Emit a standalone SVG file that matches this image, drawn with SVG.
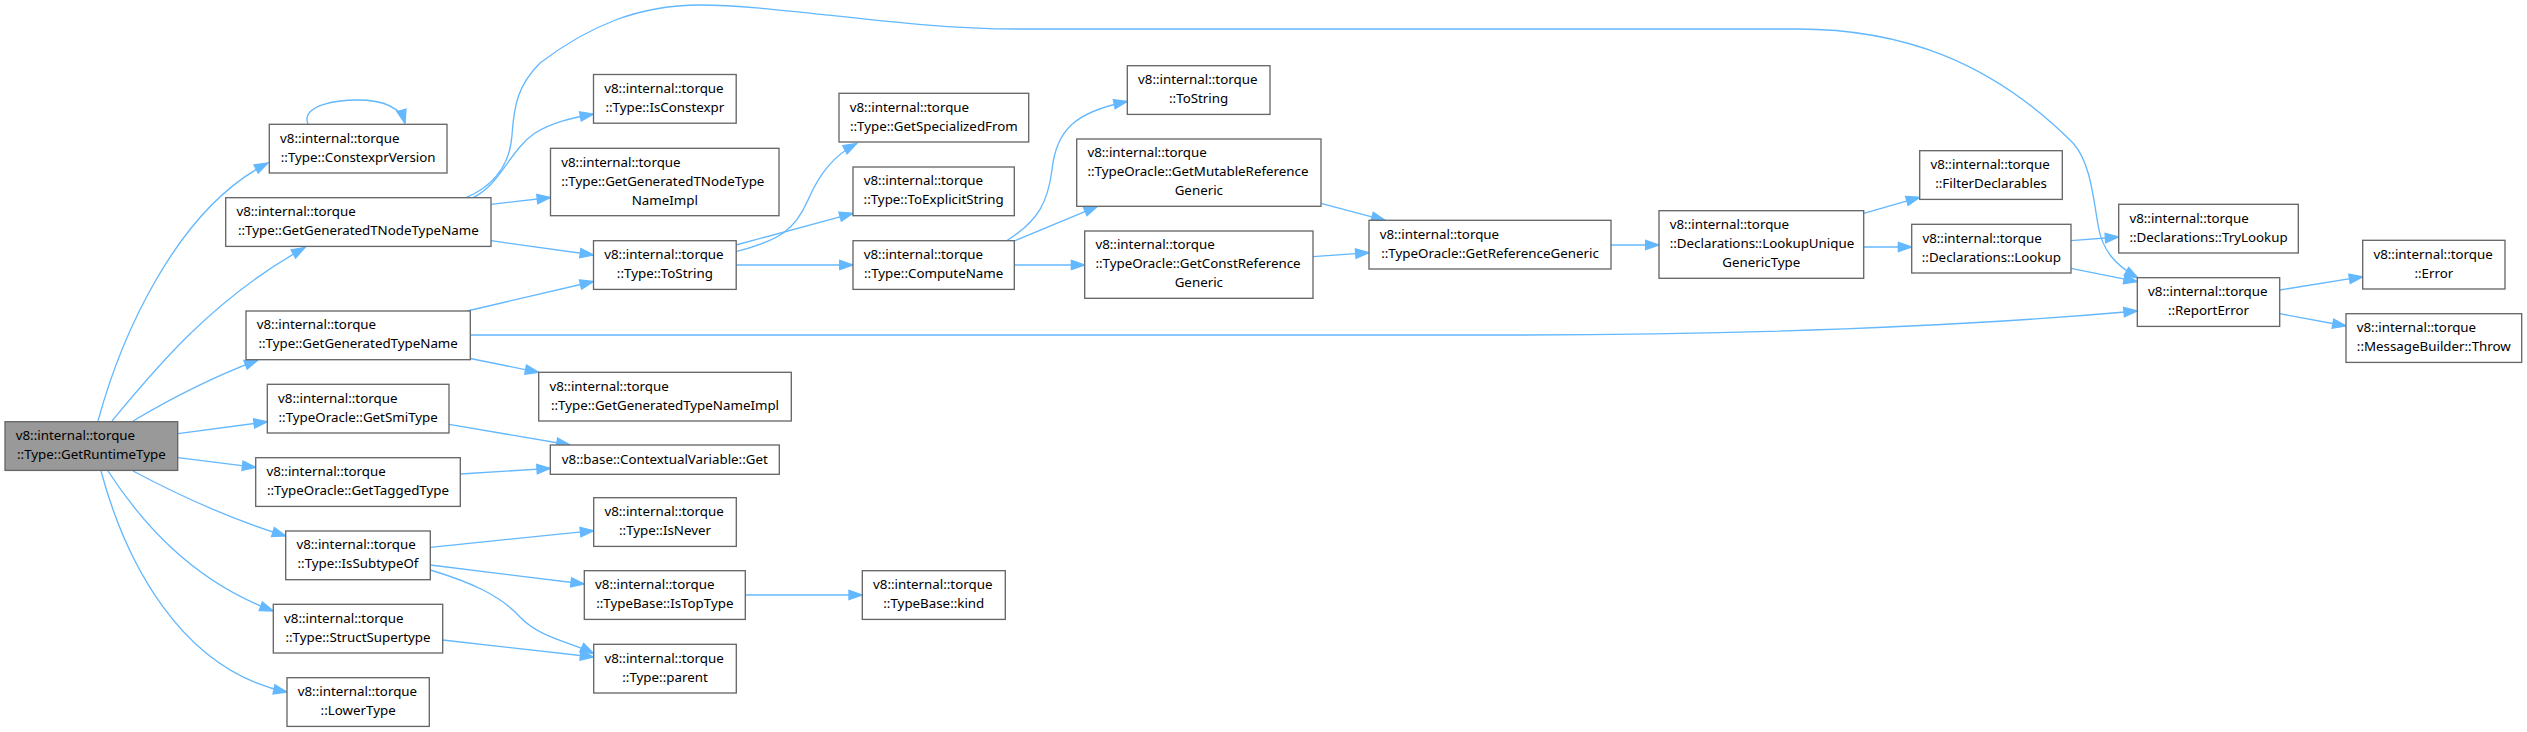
<svg xmlns="http://www.w3.org/2000/svg" width="2527" height="732" viewBox="0 0 2527 732">
<style>
.node rect{fill:#ffffff;stroke:#666666;stroke-width:1.33}
.root rect{fill:#999999}
text{font-family:"Noto Sans","Open Sans",sans-serif;font-size:13.33px;fill:#000000}
.c{text-anchor:middle}
#edges path{fill:none;stroke:#63b8ff;stroke-width:1.33;marker-end:url(#ah)}
</style>
<defs>
<marker id="ah" markerUnits="userSpaceOnUse" markerWidth="16" markerHeight="12" viewBox="-1 -1 16 12" refX="13.33" refY="4.67" orient="auto" overflow="visible">
<path d="M0,0 L13.33,4.67 L0,9.33 Z" fill="#63b8ff" stroke="#63b8ff" stroke-width="1.33"/>
</marker>
</defs>
<rect width="2527" height="732" fill="#ffffff"/>
<g id="edges">
<path d="M98,421 C120,340 175,210 268,163"/>
<path d="M112,421 C150,375 210,300 305,247.5"/>
<path d="M133,421 C165,402 210,378 258,360"/>
<path d="M178,433.7 L267.3,421.7"/>
<path d="M178,457.7 L255.7,467.3"/>
<path d="M133,471 C165,488 220,516 285.7,536"/>
<path d="M108,471 C140,520 190,580 273.3,611"/>
<path d="M101,471 C125,560 180,670 287,692"/>
<path d="M308,124.3 C300,104 340,100 357,100 C380,100 400,105 405,123.3"/>
<path d="M473,197.7 C500,185 510,150 535,133 C553,122 572,118 593.5,114"/>
<path d="M491,204.3 L550.5,197.5"/>
<path d="M491,240.7 L593.5,255"/>
<path d="M466,197.7 C495,185 510,165 512,135 C514,105 518,85 540,63 C590,25 640,5 700,5 C780,5 900,29 1020,29 L1797,29 C1900,29 1990,60 2073,143 C2090,162 2093,195 2098,225 C2102,250 2115,265 2138,278"/>
<path d="M467,311 L593.5,281.5"/>
<path d="M470.3,358.5 L538.7,372.3"/>
<path d="M470.3,335 L1500,335 C1800,335 2000,323 2137.3,311"/>
<path d="M449,424.3 L570,445"/>
<path d="M460.3,474 L550.3,468.3"/>
<path d="M430.3,547.3 L593.7,530.7"/>
<path d="M430.3,565 L584.3,584"/>
<path d="M430.3,570 C470,582 500,595 520,617 C540,638 570,642 593.7,653.5"/>
<path d="M442.7,640 L593.7,657"/>
<path d="M745.3,595 L862.3,595"/>
<path d="M736,251.7 C780,240 795,230 808,200 C820,172 835,155 856.7,143.5"/>
<path d="M736,245 L853,213.3"/>
<path d="M736,265 L853,265"/>
<path d="M1006.7,240.7 C1040,220 1048,200 1052,170 C1056,130 1075,112 1127.3,101.5"/>
<path d="M1013,241.5 L1097.5,206.3"/>
<path d="M1014.3,265 L1084.7,265"/>
<path d="M1321,203.3 L1385,220.3"/>
<path d="M1313,256.7 L1369,252.7"/>
<path d="M1611,245 L1659,245"/>
<path d="M1863.7,213.3 L1919.7,197.3"/>
<path d="M1863.7,247 L1911.7,247"/>
<path d="M2071,240.7 L2118.7,237"/>
<path d="M2071,268.3 L2137.3,281.7"/>
<path d="M2279.7,290 L2362.7,276.7"/>
<path d="M2279.7,313.7 L2346,326"/>
</g>
<g id="n1" class="node root"><rect x="5" y="421.7" width="172.7" height="48.7"/><text x="15.7" y="440">v8::internal::torque</text><text class="c" x="91.35" y="459">::Type::GetRuntimeType</text></g>
<g id="n2" class="node"><rect x="269.3" y="124.3" width="177.7" height="48.7"/><text x="280" y="142.6">v8::internal::torque</text><text class="c" x="358.15" y="161.6">::Type::ConstexprVersion</text></g>
<g id="n3" class="node"><rect x="225.7" y="197.7" width="265.3" height="48.7"/><text x="236.4" y="216">v8::internal::torque</text><text class="c" x="358.35" y="235">::Type::GetGeneratedTNodeTypeName</text></g>
<g id="n4" class="node"><rect x="246" y="311" width="224.3" height="48.7"/><text x="256.7" y="329.3">v8::internal::torque</text><text class="c" x="358.15" y="348.3">::Type::GetGeneratedTypeName</text></g>
<g id="n5" class="node"><rect x="267.3" y="384.3" width="181.7" height="48.7"/><text x="278" y="402.6">v8::internal::torque</text><text class="c" x="358.15" y="421.6">::TypeOracle::GetSmiType</text></g>
<g id="n6" class="node"><rect x="255.7" y="457.7" width="204.6" height="48.7"/><text x="266.4" y="476">v8::internal::torque</text><text class="c" x="358" y="495">::TypeOracle::GetTaggedType</text></g>
<g id="n7" class="node"><rect x="285.7" y="531" width="144.6" height="48.7"/><text x="296.4" y="549.3">v8::internal::torque</text><text class="c" x="358" y="568.3">::Type::IsSubtypeOf</text></g>
<g id="n8" class="node"><rect x="273.3" y="604.3" width="169.4" height="48.7"/><text x="284" y="622.6">v8::internal::torque</text><text class="c" x="358" y="641.6">::Type::StructSupertype</text></g>
<g id="n9" class="node"><rect x="287" y="677.7" width="142.3" height="48.7"/><text x="297.7" y="696">v8::internal::torque</text><text class="c" x="358.15" y="715">::LowerType</text></g>
<g id="n10" class="node"><rect x="593.5" y="74.5" width="142.7" height="48.7"/><text x="604.2" y="92.8">v8::internal::torque</text><text class="c" x="664.85" y="111.8">::Type::IsConstexpr</text></g>
<g id="n11" class="node"><rect x="550.5" y="148.3" width="228.5" height="67.4"/><text x="561.2" y="166.5">v8::internal::torque</text><text x="561.2" y="185.5">::Type::GetGeneratedTNodeType</text><text class="c" x="664.75" y="204.5">NameImpl</text></g>
<g id="n12" class="node"><rect x="593.5" y="240.7" width="142.7" height="48.7"/><text x="604.2" y="259">v8::internal::torque</text><text class="c" x="664.85" y="278">::Type::ToString</text></g>
<g id="n13" class="node"><rect x="538.7" y="372.3" width="252.6" height="48.7"/><text x="549.4" y="390.6">v8::internal::torque</text><text class="c" x="665" y="409.6">::Type::GetGeneratedTypeNameImpl</text></g>
<g id="n14" class="node"><rect x="550.3" y="445" width="229" height="29.3"/><text class="c" x="664.8" y="464">v8::base::ContextualVariable::Get</text></g>
<g id="n15" class="node"><rect x="593.7" y="497.7" width="142.6" height="48.7"/><text x="604.4" y="516">v8::internal::torque</text><text class="c" x="665" y="535">::Type::IsNever</text></g>
<g id="n16" class="node"><rect x="584.3" y="570.7" width="161" height="48.7"/><text x="595" y="589">v8::internal::torque</text><text class="c" x="664.8" y="608">::TypeBase::IsTopType</text></g>
<g id="n17" class="node"><rect x="593.7" y="644.3" width="142.6" height="48.7"/><text x="604.4" y="662.6">v8::internal::torque</text><text class="c" x="665" y="681.6">::Type::parent</text></g>
<g id="n18" class="node"><rect x="839" y="93.3" width="189.7" height="48.7"/><text x="849.7" y="111.6">v8::internal::torque</text><text class="c" x="933.85" y="130.6">::Type::GetSpecializedFrom</text></g>
<g id="n19" class="node"><rect x="853" y="167" width="161.3" height="48.7"/><text x="863.7" y="185.3">v8::internal::torque</text><text class="c" x="933.65" y="204.3">::Type::ToExplicitString</text></g>
<g id="n20" class="node"><rect x="853" y="240.7" width="161.3" height="48.7"/><text x="863.7" y="259">v8::internal::torque</text><text class="c" x="933.65" y="278">::Type::ComputeName</text></g>
<g id="n32" class="node"><rect x="862.3" y="570.7" width="143" height="48.7"/><text x="873" y="589">v8::internal::torque</text><text class="c" x="933.8" y="608">::TypeBase::kind</text></g>
<g id="n21" class="node"><rect x="1127.3" y="65.7" width="142.7" height="48.7"/><text x="1138" y="84">v8::internal::torque</text><text class="c" x="1198.65" y="103">::ToString</text></g>
<g id="n22" class="node"><rect x="1076.7" y="139" width="244.3" height="67.3"/><text x="1087.4" y="157.2">v8::internal::torque</text><text x="1087.4" y="176.2">::TypeOracle::GetMutableReference</text><text class="c" x="1198.85" y="195.2">Generic</text></g>
<g id="n23" class="node"><rect x="1084.7" y="231" width="228.3" height="67.3"/><text x="1095.4" y="249.2">v8::internal::torque</text><text x="1095.4" y="268.2">::TypeOracle::GetConstReference</text><text class="c" x="1198.85" y="287.2">Generic</text></g>
<g id="n24" class="node"><rect x="1369" y="220.3" width="242" height="48.7"/><text x="1379.7" y="238.6">v8::internal::torque</text><text class="c" x="1490" y="257.6">::TypeOracle::GetReferenceGeneric</text></g>
<g id="n25" class="node"><rect x="1659" y="210.7" width="204.7" height="67.6"/><text x="1669.7" y="228.9">v8::internal::torque</text><text x="1669.7" y="247.9">::Declarations::LookupUnique</text><text class="c" x="1761.35" y="266.9">GenericType</text></g>
<g id="n26" class="node"><rect x="1919.7" y="150.7" width="142.6" height="48.7"/><text x="1930.4" y="169">v8::internal::torque</text><text class="c" x="1991" y="188">::FilterDeclarables</text></g>
<g id="n27" class="node"><rect x="1911.7" y="224.3" width="159.3" height="48.7"/><text x="1922.4" y="242.6">v8::internal::torque</text><text class="c" x="1991.35" y="261.6">::Declarations::Lookup</text></g>
<g id="n28" class="node"><rect x="2118.7" y="204.3" width="179.6" height="48.7"/><text x="2129.4" y="222.6">v8::internal::torque</text><text class="c" x="2208.5" y="241.6">::Declarations::TryLookup</text></g>
<g id="n29" class="node"><rect x="2137.3" y="277.7" width="142.4" height="48.7"/><text x="2148" y="296">v8::internal::torque</text><text class="c" x="2208.5" y="315">::ReportError</text></g>
<g id="n30" class="node"><rect x="2362.7" y="240.3" width="142.3" height="48.7"/><text x="2373.4" y="258.6">v8::internal::torque</text><text class="c" x="2433.85" y="277.6">::Error</text></g>
<g id="n31" class="node"><rect x="2346" y="313.7" width="175.7" height="48.7"/><text x="2356.7" y="332">v8::internal::torque</text><text class="c" x="2433.85" y="351">::MessageBuilder::Throw</text></g>
</svg>
